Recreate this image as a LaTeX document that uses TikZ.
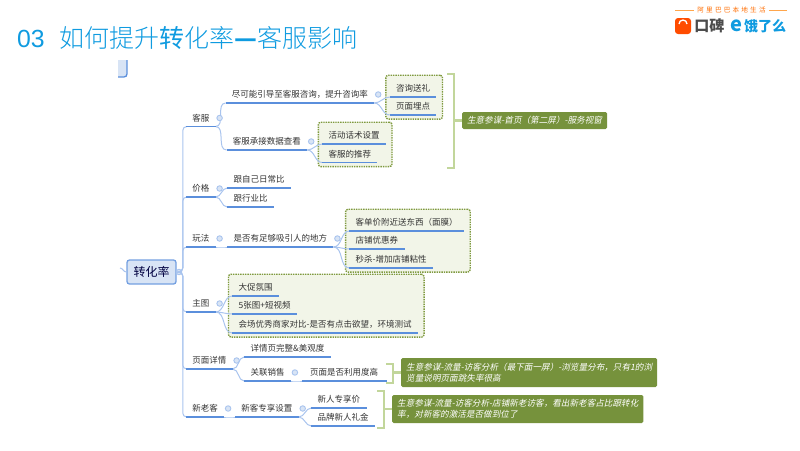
\documentclass[tikz,border=0pt]{standalone}
\usepackage{fontspec}
\setmainfont{Noto Sans CJK SC}
\newfontfamily\titlefont{Noto Sans CJK SC Light}
\newfontfamily\titlestrong{Noto Sans CJK SC}
\newfontfamily\numfont{Liberation Sans}
\newfontfamily\notefont[FakeSlant=0.2]{Noto Sans CJK SC}
\usetikzlibrary{positioning,fit,backgrounds,calc}
\definecolor{linkblue}{HTML}{A9C4EE}
\definecolor{lineblue}{HTML}{5B8FDC}
\definecolor{rootfill}{HTML}{D8E4F5}
\definecolor{inktext}{HTML}{333333}
\definecolor{boxfill}{HTML}{F2F5E8}
\definecolor{boxdots}{HTML}{7F9A3F}
\definecolor{bracketgreen}{HTML}{C2D69B}
\definecolor{notefill}{HTML}{76923C}
\definecolor{titleblue}{HTML}{0F9BE0}
\begin{document}
\begin{tikzpicture}[
    x=1pt, y=-1pt,
    topic/.style = {rectangle, anchor=south west, inner xsep=6.3pt, inner ysep=0pt, outer sep=0pt, text height=8pt, text depth=5.5pt, text=inktext, font=\fontsize{8.5}{10}\selectfont},
    rootbox/.style = {rectangle, rounded corners=2.5pt, draw=lineblue!85, line width=1.3pt, fill=rootfill, minimum width=49pt, minimum height=24pt, inner sep=0pt, text=black!75!blue, font=\fontsize{12}{14}\selectfont},
    fold/.style = {circle, draw=linkblue, line width=0.9pt, fill=rootfill, minimum size=5.5pt, inner sep=0pt, outer sep=0pt},
    container/.style = {rectangle, rounded corners=2.5pt, draw=boxdots, densely dotted, line width=1.4pt, fill=boxfill, inner xsep=5pt, inner ysep=6.2pt, xshift=1.2pt, yshift=2.1pt},
    note/.style = {rectangle, rounded corners=1.5pt, fill=notefill, text=white, inner xsep=5pt, inner ysep=0pt, align=left, font=\notefont\fontsize{8.6}{10.6}\selectfont},
    bracket/.style = {draw=bracketgreen, line width=2.4pt},
    link/.style = {draw=linkblue, line width=1pt},
    uline/.style = {draw=lineblue, line width=1.2pt}
]
    \useasboundingbox (0,0) rectangle (800,450);

    % title and logo
    \node [anchor=base west, inner sep=0pt, text=titleblue, font=\numfont\fontsize{24.8}{28}\selectfont] (num) at (17,47) {03};
    \node [anchor=base west, inner sep=0pt, text=titleblue, font=\titlefont\fontsize{25}{28}\selectfont] (headline) at (59,47) {如何提升{\titlestrong 转}化率{\titlestrong\bfseries —}客服影响};
    \node [inner sep=0pt, text=orange!85!red, font=\fontsize{6.6}{8}\selectfont] (group) at (731.5,10) {阿\,\,里\,\,巴\,\,巴\,\,本\,\,地\,\,生\,\,活};
    \draw [orange!70, line width=0.6pt] (675,10) -- ($(group.west)+(-3pt,0)$);
    \draw [orange!70, line width=0.6pt] ($(group.east)+(3pt,0)$) -- (787,10);
    \node [rectangle, rounded corners=3pt, fill=orange!60!red, minimum size=16pt, inner sep=0pt] (koubeiicon) at (683,26) {};
    \draw [white, line width=1.3pt] ($(koubeiicon.center)+(-4pt,2pt)$) arc[start angle=180, end angle=360, x radius=4pt, y radius=-4pt];
    \node [right=3pt of koubeiicon, inner sep=0pt, text=black!70, font=\bfseries\fontsize{15}{17}\selectfont] (koubei) {口碑};
    \node [right=6pt of koubei, inner sep=0pt, text=titleblue, font=\bfseries\fontsize{20}{20}\selectfont] (eleme) {e};
    \node [right=1pt of eleme, inner sep=0pt, text=titleblue, font=\bfseries\fontsize{14}{16}\selectfont] (elemetext) {饿了么};

    % cut off box at the top
    \fill [rootfill] (118,60) -- (127,60) -- (127,77) -- (118,77) -- cycle;
    \draw [lineblue, line width=1.3pt, rounded corners=3pt] (127,60) -- (127,77) -- (118,77);

    % root
    \node [rootbox] (root) at (151.5,272) {转化率};
    \node [fold] (rootfold) at (179,272) {};
    \coordinate (rootin) at (120,268);

    % first level
    \node [topic] (kefu) at (186,126.5) {客服};
    \node [topic] (price) at (186,197) {价格};
    \node [topic] (play) at (186,247) {玩法};
    \node [topic] (main) at (186,312) {主图};
    \node [topic] (detail) at (186,369) {页面详情};
    \node [topic] (newold) at (186,417) {新老客};

    % kefu
    \node [above right=23.5pt and 10pt of kefu.south east, topic] (ask) {尽可能引导至客服咨询，提升咨询率};
    \node [below right=23.5pt and 11pt of kefu.south east, topic] (data) {客服承接数据查看};
    \node [above right=6pt and 15.5pt of ask.south east, topic] (gift) {咨询送礼};
    \node [below right=12pt and 15.5pt of ask.south east, topic] (bury) {页面埋点};
    \node [above right=6pt and 15pt of data.south east, topic] (script) {活动话术设置};
    \node [below right=12.5pt and 15pt of data.south east, topic] (recommend) {客服的推荐};

    % price
    \node [above right=9pt and 11.7pt of price.south east, topic] (daily) {跟自己日常比};
    \node [below right=10pt and 11.7pt of price.south east, topic] (rival) {跟行业比};

    % play
    \node [above right=0pt and 11.7pt of play.south east, topic] (hook) {是否有足够吸引人的地方};
    \node [above right=16pt and 16pt of hook.south east, topic] (mask) {客单价附近送东西（面膜）};
    \node [below right=2pt and 16pt of hook.south east, topic] (coupon) {店铺优惠券};
    \node [below right=21pt and 16pt of hook.south east, topic] (flash) {秒杀-增加店铺粘性};

    % main
    \node [above right=16pt and 16.7pt of main.south east, topic] (promo) {大促氛围};
    \node [below right=2pt and 16.7pt of main.south east, topic] (video) {5张图+短视频};
    \node [below right=21pt and 16.7pt of main.south east, topic] (venue) {会场优秀商家对比-是否有点击欲望，环境测试};

    % detail
    \node [above right=12pt and 11.7pt of detail.south east, topic] (full) {详情页完整\&美观度};
    \node [below right=12pt and 11.7pt of detail.south east, topic] (related) {关联销售};
    \node [above right=0pt and 10.7pt of related.south east, topic, minimum width=85pt] (reuse) {页面是否利用度高};

    % newold
    \node [above right=0pt and 11pt of newold.south east, topic] (setting) {新客专享设置};
    \node [above right=9pt and 12.7pt of setting.south east, topic] (newprice) {新人专享价};
    \node [below right=9pt and 12.7pt of setting.south east, topic] (newgift) {品牌新人礼金};

    % dotted boxes
    \begin{scope}[on background layer]
        \node [container, fit=(gift) (bury)] (giftbox) {};
        \node [container, fit=(script) (recommend)] (scriptbox) {};
        \node [container, fit=(mask) (coupon) (flash)] (maskbox) {};
        \node [container, fit=(promo) (video) (venue)] (promobox) {};
    \end{scope}

    % green notes
    \node [note, minimum width=145pt, minimum height=17pt] (note1) at (534.5,120.5) {生意参谋-首页（第二屏）-服务视窗};
    \node [note, anchor=west, minimum height=29pt] (note2) at (401,372.5) {生意参谋-流量-访客分析（最下面一屏）-浏览量分布，只有1的浏\\览量说明页面跳失率很高};
    \node [note, anchor=west, minimum height=28pt] (note3) at (392,409) {生意参谋-流量-访客分析-店铺新老访客，看出新老客占比跟转化\\率，对新客的激活是否做到位了};

    % brackets
    \foreach \n/\x/\top/\bottom in {note1/447/74/168, note2/386/364/383, note3/377/391/428} {
        \draw [bracket] (\x,\top) -- ++(7,0) -- ++(0,\bottom-\top) -- ++(-7,0);
        \draw [bracket] (\n.west) -- (\x+7,0 |- \n.west);
    }

    % connectors
    \draw [link] (rootin) to[out=0, in=180] (root.west);
    \foreach \n in {kefu,price,play,main,detail,newold}
        \draw [link, rounded corners=4pt] (rootfold.east) -- ++(1pt,0) |- (\n.south west);
    \foreach \a/\b in {kefu/ask,kefu/data,ask/gift,ask/bury,data/script,data/recommend,price/daily,price/rival,play/hook,hook/mask,hook/coupon,hook/flash,main/promo,main/video,main/venue,detail/full,detail/related,related/reuse,newold/setting,setting/newprice,setting/newgift}
        \draw [link] (\a.south east) to[out=0, in=180] (\b.south west);

    % underlines and fold marks
    \foreach \n in {kefu,price,play,main,detail,newold,ask,data,gift,bury,script,recommend,daily,rival,hook,mask,coupon,flash,promo,video,venue,full,related,reuse,setting,newprice,newgift}
        \draw [uline] (\n.south west) -- (\n.south east);
    \foreach \n in {kefu,price,play,main,detail,newold,ask,data,hook,related,setting}
        \node [fold] (\n-fold) at ($(\n.south east)+(4pt,8.5pt)$) {};
\end{tikzpicture}
\end{document}
